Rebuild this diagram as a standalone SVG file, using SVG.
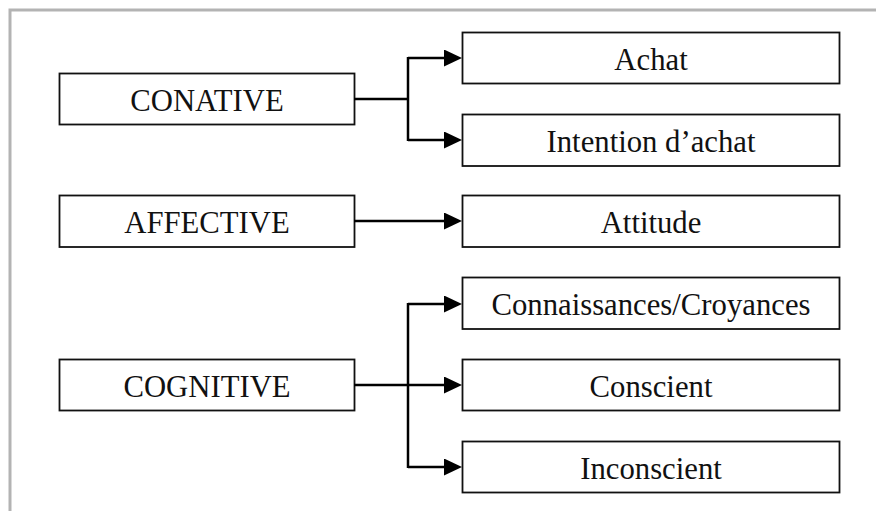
<svg xmlns="http://www.w3.org/2000/svg" width="876" height="511" viewBox="0 0 876 511">
<style>
.box{fill:#fff;stroke:#111;stroke-width:1.8}
.lbl{font-family:"Liberation Serif","Times New Roman",serif;font-size:32px;fill:#111;text-anchor:middle}
.con{fill:none;stroke:#000;stroke-width:2.5}
.frame{fill:none;stroke:#b3b3b3;stroke-width:3}
</style>
<defs>
<marker id="ah" markerUnits="userSpaceOnUse" markerWidth="18" markerHeight="17" refX="6" refY="8.5" orient="auto" viewBox="0 0 18 17">
<path d="M0,0 L18,8.5 L0,17 z" fill="#000"/>
</marker>
</defs>
<rect width="876" height="511" fill="#fff"/>
<path class="frame" d="M10,511 V10 H876"/>
<g id="conative"><rect class="box" x="59.5" y="73.5" width="295" height="51"/><text class="lbl" transform="translate(207,110.5) scale(0.96,1)">CONATIVE</text></g>
<g id="affective"><rect class="box" x="59.5" y="195.5" width="295" height="51.5"/><text class="lbl" transform="translate(207,233) scale(0.96,1)">AFFECTIVE</text></g>
<g id="cognitive"><rect class="box" x="59.5" y="359.5" width="295" height="51"/><text class="lbl" transform="translate(207,396.5) scale(0.96,1)">COGNITIVE</text></g>
<g id="achat"><rect class="box" x="462.5" y="32.5" width="377" height="51"/><text class="lbl" transform="translate(651,70) scale(0.96,1)">Achat</text></g>
<g id="intention"><rect class="box" x="462.5" y="114.5" width="377" height="51.5"/><text class="lbl" transform="translate(651,152) scale(0.96,1)">Intention d’achat</text></g>
<g id="attitude"><rect class="box" x="462.5" y="195.5" width="377" height="51.5"/><text class="lbl" transform="translate(651,233) scale(0.96,1)">Attitude</text></g>
<g id="connaissances"><rect class="box" x="462.5" y="277.5" width="377" height="51.5"/><text class="lbl" transform="translate(651,315) scale(0.96,1)">Connaissances/Croyances</text></g>
<g id="conscient"><rect class="box" x="462.5" y="359.5" width="377" height="51"/><text class="lbl" transform="translate(651,396.5) scale(0.96,1)">Conscient</text></g>
<g id="inconscient"><rect class="box" x="462.5" y="441.5" width="377" height="51"/><text class="lbl" transform="translate(651,478.5) scale(0.96,1)">Inconscient</text></g>
<g id="connectors">
<path class="con" d="M354,99 H408"/>
<path class="con" d="M408,57 V141"/>
<path class="con" d="M408,58 H450" marker-end="url(#ah)"/>
<path class="con" d="M408,140 H450" marker-end="url(#ah)"/>
<path class="con" d="M354,221 H450" marker-end="url(#ah)"/>
<path class="con" d="M354,385 H450" marker-end="url(#ah)"/>
<path class="con" d="M408,303 V468"/>
<path class="con" d="M408,304 H450" marker-end="url(#ah)"/>
<path class="con" d="M408,467 H450" marker-end="url(#ah)"/>
</g>
</svg>
